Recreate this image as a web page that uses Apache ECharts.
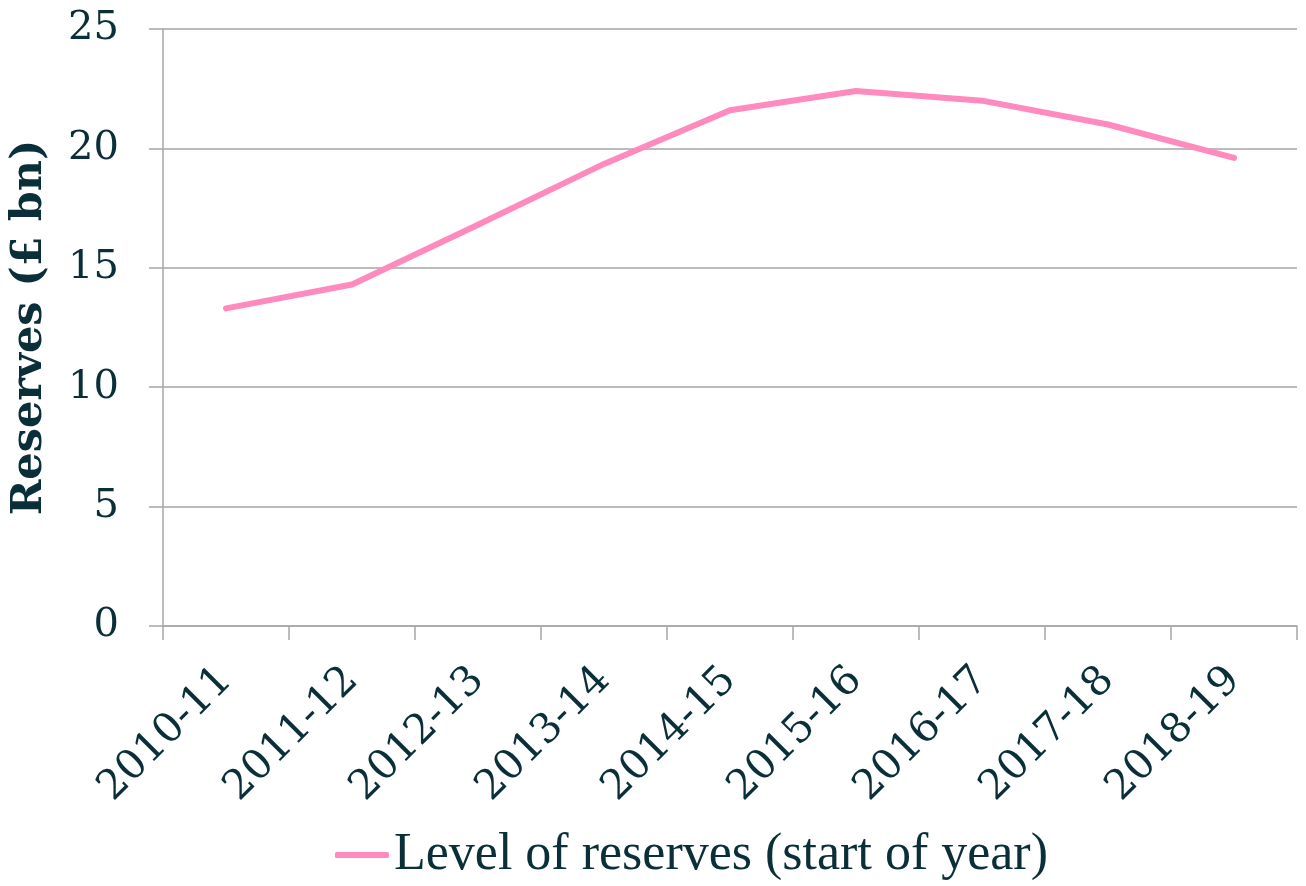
<!DOCTYPE html>
<html>
<head>
<meta charset="utf-8">
<script src="https://cdn.jsdelivr.net/npm/echarts@6/dist/echarts.min.js"></script>
<style>html,body{margin:0;padding:0;background:#fff}#c{width:1306px;height:886px}</style>
</head>
<body>
<div id="c"></div>
<script>
const categories = ['2010-11','2011-12','2012-13','2013-14','2014-15','2015-16','2016-17','2017-18','2018-19'];
const reserves = [13.3, 14.3, 16.8, 19.35, 21.6, 22.4, 22.0, 21.0, 19.6];
const seriesName = 'Level of reserves (start of year)';
const yAxisName = 'Reserves (£ bn)';

const textColor = '#0a2f38';
const gridColor = '#a6a6a6';
const font = '"DejaVu Serif", "Liberation Serif", serif';
const legendFont = '"Liberation Serif", serif';

const chart = echarts.init(document.getElementById('c'));
chart.setOption({
  animation: false,
  backgroundColor: '#fff',
  grid: { left: 162, right: 9, top: 29, bottom: 260 },
  legend: {
    bottom: 0, left: 330,
    data: [seriesName],
    itemWidth: 54, itemHeight: 6, itemGap: 8,
    icon: 'roundRect',
    textStyle: { fontFamily: legendFont, fontSize: 52, color: textColor, fontWeight: 'normal' }
  },
  xAxis: {
    type: 'category',
    data: categories,
    boundaryGap: true,
    axisLine: { lineStyle: { color: gridColor, width: 1.5 } },
    axisTick: { show: true, length: 14, lineStyle: { color: gridColor, width: 1.5 } },
    axisLabel: { rotate: 45, margin: 48, fontFamily: font, fontSize: 41, color: textColor }
  },
  yAxis: {
    type: 'value',
    min: 0, max: 25, interval: 5,
    name: yAxisName,
    nameLocation: 'middle',
    nameGap: 112,
    nameRotate: 90,
    nameTextStyle: { fontFamily: font, fontSize: 43, fontWeight: 'bold', color: textColor },
    axisLine: { show: true, lineStyle: { color: gridColor, width: 1.5 } },
    axisTick: { show: true, length: 14, lineStyle: { color: gridColor, width: 1.5 } },
    splitLine: { lineStyle: { color: gridColor, width: 1.5 } },
    axisLabel: { margin: 44, fontFamily: font, fontSize: 40, color: textColor }
  },
  series: [{
    name: seriesName,
    type: 'line',
    data: reserves,
    symbol: 'none',
    lineStyle: { color: '#ff8abd', width: 6, cap: 'round', join: 'round' },
    itemStyle: { color: '#ff8abd' }
  }]
});
</script>
</body>
</html>
